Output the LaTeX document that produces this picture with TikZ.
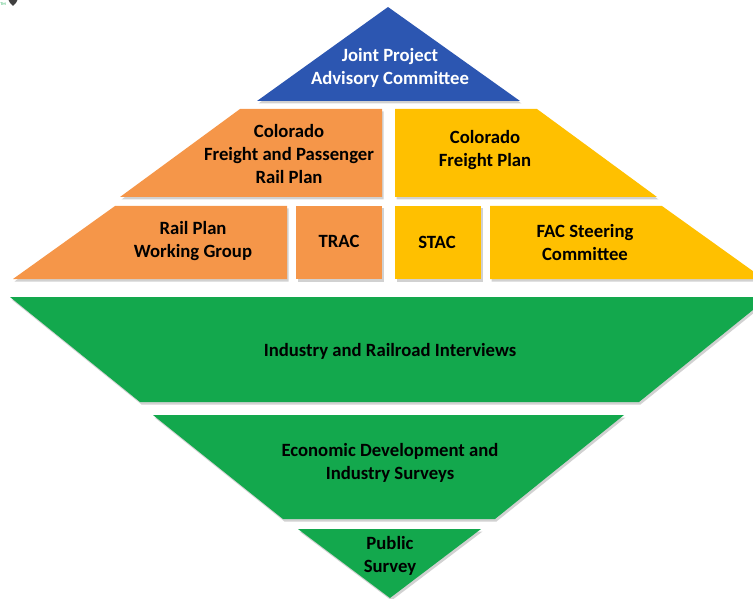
\documentclass[tikz,border=0pt]{standalone}
\usepackage{fontspec}
\setmainfont{Carlito}
\begin{document}
\begin{tikzpicture}[x=1pt,y=-1pt,
  lbl/.style={font=\fontsize{18.7}{23}\selectfont\bfseries, align=center, text=black, inner sep=0pt},
  shade/.style={fill=black, opacity=0.18},
  bluef/.style={fill=jblue},
  orangef/.style={fill=jorange},
  yellowf/.style={fill=jyellow},
  greenf/.style={fill=jgreen}]
\definecolor{jblue}{HTML}{2C56B1}
\definecolor{jorange}{HTML}{F59649}
\definecolor{jyellow}{HTML}{FFC000}
\definecolor{jgreen}{HTML}{13A84D}
\useasboundingbox (0,0) rectangle (753,599);
% shadows
\begin{scope}[shift={(1.5,2.5)}]
\fill[shade] (388,7) -- (520,101) -- (257,101) -- cycle;
\fill[shade] (240,109) -- (382,109) -- (382,197) -- (120,197) -- cycle;
\fill[shade] (395,109) -- (537,109) -- (657,197) -- (395,197) -- cycle;
\fill[shade] (115,206) -- (287,206) -- (287,279) -- (13,279) -- cycle;
\fill[shade] (296,206) rectangle (382,279);
\fill[shade] (395,206) rectangle (481,279);
\fill[shade] (490,206) -- (662,206) -- (764,279) -- (490,279) -- cycle;
\fill[shade] (10,297) -- (769,297) -- (639,402) -- (140,402) -- cycle;
\fill[shade] (153,415) -- (624,415) -- (495,519) -- (283,519) -- cycle;
\fill[shade] (298,529) -- (481,529) -- (390,598) -- cycle;
\end{scope}
% shapes
\fill[bluef] (388,7) -- (520,101) -- (257,101) -- cycle;
\fill[orangef] (240,109) -- (382,109) -- (382,197) -- (120,197) -- cycle;
\fill[yellowf] (395,109) -- (537,109) -- (657,197) -- (395,197) -- cycle;
\fill[orangef] (115,206) -- (287,206) -- (287,279) -- (13,279) -- cycle;
\fill[orangef] (296,206) rectangle (382,279);
\fill[yellowf] (395,206) rectangle (481,279);
\fill[yellowf] (490,206) -- (662,206) -- (764,279) -- (490,279) -- cycle;
\fill[greenf] (10,297) -- (769,297) -- (639,402) -- (140,402) -- cycle;
\fill[greenf] (153,415) -- (624,415) -- (495,519) -- (283,519) -- cycle;
\fill[greenf] (298,529) -- (481,529) -- (390,598) -- cycle;
% logo remnant
\fill[black!75] (8,-1) -- (18,-1) -- (16,3) -- (13,6) -- (10,3) -- cycle;
\node[font=\fontsize{4}{4}\selectfont, text=jgreen, inner sep=0pt] (tm) at (3,4) {TM};
% labels
\node[lbl, text=white] (jpac) at (390,68) {Joint Project\\Advisory Committee};
\node[lbl] (cfprp) at (289,154.5) {Colorado\\Freight and Passenger\\Rail Plan};
\node[lbl] (cfp) at (485,150.5) {Colorado\\Freight Plan};
\node[lbl] (rpwg) at (193,241) {Rail Plan\\Working Group};
\node[lbl] (trac) at (339,241) {TRAC};
\node[lbl] (stac) at (437,242) {STAC};
\node[lbl] (fac) at (585,242.5) {FAC Steering\\Committee};
\node[lbl] (iri) at (390,351) {Industry and Railroad Interviews};
\node[lbl] (edis) at (390,462.5) {Economic Development and\\Industry Surveys};
\node[lbl] (ps) at (390,555.5) {Public\\Survey};
\end{tikzpicture}
\end{document}
